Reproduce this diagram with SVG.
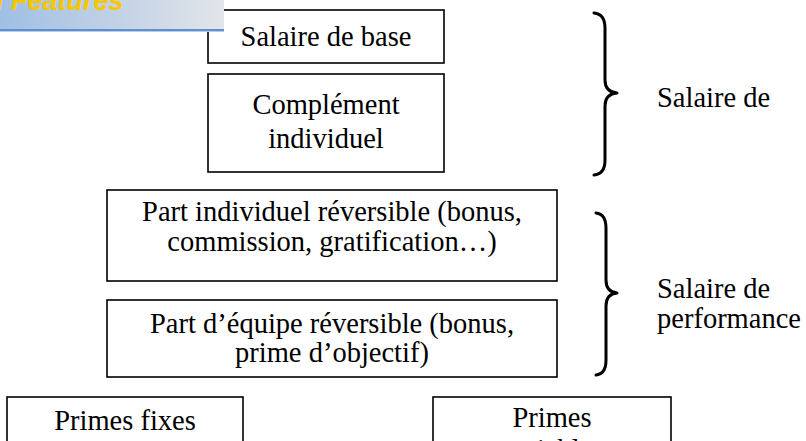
<svg xmlns="http://www.w3.org/2000/svg" width="806" height="441" viewBox="0 0 806 441">
  <defs>
    <linearGradient id="bannerGrad" x1="0" y1="0" x2="1" y2="0">
      <stop offset="0" stop-color="#9fbfe4"/>
      <stop offset="0.55" stop-color="#c4d3e6"/>
      <stop offset="1" stop-color="#e2e5ea"/>
    </linearGradient>
    <style>
      .box { fill: #ffffff; stroke: #000000; stroke-width: 1.6; }
      .lbl { font-family: "Liberation Serif", "Times New Roman", serif; font-size: 28.5px; fill: #000000; text-anchor: middle; }
      .side { font-family: "Liberation Serif", "Times New Roman", serif; font-size: 28.5px; fill: #000000; }
      .brace { fill: none; stroke: #000000; stroke-width: 3; stroke-linecap: round; stroke-linejoin: round; }
    </style>
  </defs>

  <rect width="806" height="441" fill="#ffffff"/>

  <!-- fixed salary blocks -->
  <g id="salaire-base">
    <rect class="box" x="208" y="10" width="236" height="53"/>
    <text class="lbl" x="326" y="46">Salaire de base</text>
  </g>
  <g id="complement-individuel">
    <rect class="box" x="208" y="74" width="236" height="98"/>
    <text class="lbl" x="326" y="114">Complément</text>
    <text class="lbl" x="326" y="148">individuel</text>
  </g>

  <!-- performance blocks -->
  <g id="part-individuel">
    <rect class="box" x="107" y="190" width="450" height="91"/>
    <text class="lbl" x="332" y="221">Part individuel réversible (bonus,</text>
    <text class="lbl" x="332" y="251">commission, gratification…)</text>
  </g>
  <g id="part-equipe">
    <rect class="box" x="107" y="300" width="450" height="77"/>
    <text class="lbl" x="332" y="333">Part d’équipe réversible (bonus,</text>
    <text class="lbl" x="332" y="362">prime d’objectif)</text>
  </g>

  <!-- bonus blocks -->
  <g id="primes-fixes">
    <rect class="box" x="7" y="397" width="236" height="60"/>
    <text class="lbl" x="125" y="430">Primes fixes</text>
  </g>
  <g id="primes-variables">
    <rect class="box" x="433" y="397" width="238" height="60"/>
    <text class="lbl" x="552" y="427">Primes</text>
    <text class="lbl" x="552" y="459">variables</text>
  </g>

  <!-- braces grouping the blocks -->
  <g id="connectors">
    <path class="brace" d="M594,13 Q605,14 605,28 L605,80 Q605,92 617,93 Q605,94 605,106 L605,160 Q605,174 594,175"/>
    <path class="brace" d="M596,213 Q606,214 606,228 L606,280 Q606,292 617,293 Q606,294 606,306 L606,360 Q606,374 596,375"/>
  </g>

  <g id="salaire-de-label">
    <text class="side" x="657" y="107">Salaire de</text>
  </g>
  <g id="salaire-performance-label">
    <text class="side" x="657" y="298">Salaire de</text>
    <text class="side" x="657" y="328">performance</text>
  </g>

  <!-- header banner strip -->
  <g id="banner">
    <rect x="0" y="0" width="224" height="31" fill="url(#bannerGrad)"/>
    <rect x="0" y="29" width="224" height="2" fill="#5e90cf"/>
    <rect x="0" y="31" width="224" height="1" fill="#b9cde6"/>
    <text x="-4" y="10" font-family="'Liberation Sans', Arial, sans-serif" font-size="27" font-weight="bold" font-style="italic" fill="#f6c700">l Features</text>
  </g>
</svg>
